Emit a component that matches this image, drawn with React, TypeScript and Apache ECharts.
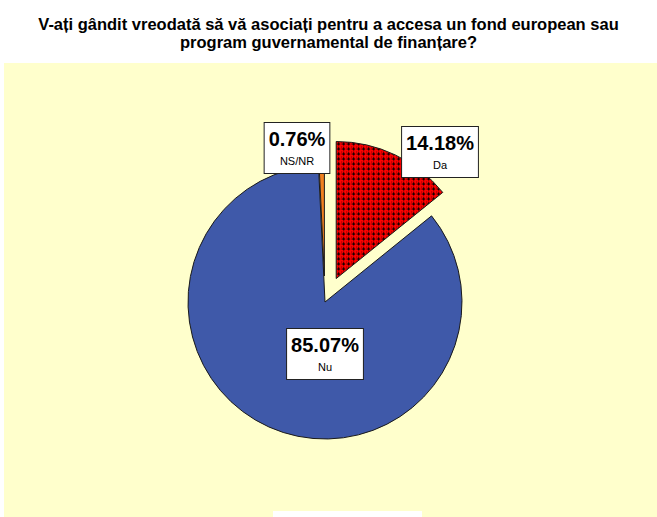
import React, { useEffect, useRef } from "react";
import * as echarts from "echarts";

const titleText =
  "V-ați gândit vreodată să vă asociați pentru a accesa un fond european sau\nprogram guvernamental de finanțare?";
const categories = ["Da", "Nu", "NS/NR"];
const values = [14.18, 85.07, 0.76];
const exploded = [true, false, true];

const FONT = "'Liberation Sans', Arial, sans-serif";

function makePattern(): HTMLCanvasElement {
  const c = document.createElement("canvas");
  c.width = 5;
  c.height = 5;
  const ctx = c.getContext("2d")!;
  ctx.fillStyle = "#ff0000";
  ctx.fillRect(0, 0, 5, 5);
  ctx.fillStyle = "#000000";
  ctx.fillRect(2, 1, 1, 3);
  ctx.fillRect(1, 2, 3, 1);
  ctx.fillStyle = "#700000";
  ctx.fillRect(0, 0, 1, 1);
  ctx.fillRect(2, 0, 1, 1);
  ctx.fillRect(0, 2, 1, 1);
  return c;
}

export default function App() {
  const ref = useRef<HTMLDivElement>(null);
  useEffect(() => {
    if (!ref.current) return;
    const chart = echarts.init(ref.current, undefined, { renderer: "svg" });
    const colors = [
      { image: makePattern(), repeat: "repeat" },
      "#3f59a9",
      "#f08020",
    ];
    // label box centres (layout only)
    const labelCenters = [
      [440, 152],
      [325, 354],
      [297, 148],
    ];
    const labelGraphics = categories.map((name, i) => ({
      type: "text",
      z: 100,
      silent: true,
      x: labelCenters[i][0],
      y: labelCenters[i][1],
      style: {
        text: `{p|${values[i].toFixed(2)}%}\n{n|${name}}`,
        align: "center",
        verticalAlign: "middle",
        backgroundColor: "#ffffff",
        borderColor: "#222",
        borderWidth: 1,
        padding: [3, 4, 3, 4],
        rich: {
          p: {
            fontFamily: FONT,
            fontSize: 20,
            fontWeight: "bold",
            fill: "#000",
            lineHeight: 26,
            align: "center",
          },
          n: {
            fontFamily: FONT,
            fontSize: 11,
            fill: "#000",
            lineHeight: 18,
            align: "center",
          },
        },
      },
    }));
    chart.setOption({
      animation: false,
      backgroundColor: "#ffffff",
      title: {
        text: titleText,
        left: "center",
        top: 10,
        textStyle: {
          fontFamily: FONT,
          fontSize: 16.5,
          fontWeight: "bold",
          color: "#000",
          lineHeight: 18,
        },
      },
      graphic: [
        {
          type: "rect",
          z: -10,
          silent: true,
          shape: { x: 4, y: 63, width: 660, height: 460 },
          style: { fill: "#ffffcc" },
        },
        {
          type: "rect",
          z: -5,
          silent: true,
          shape: { x: 273, y: 511, width: 149, height: 20 },
          style: { fill: "#ffffff" },
        },
        ...labelGraphics,
      ],
      series: [
        {
          type: "pie",
          center: [325, 302],
          radius: 137,
          startAngle: 90,
          clockwise: true,
          selectedMode: "multiple",
          selectedOffset: 26,
          avoidLabelOverlap: false,
          emphasis: { disabled: true },
          itemStyle: { borderColor: "#1a1a1a", borderWidth: 1 },
          select: { itemStyle: { borderColor: "#1a1a1a", borderWidth: 1 } },
          label: { show: false },
          labelLine: { show: false },
          data: categories.map((name, i) => ({
            name,
            value: values[i],
            selected: exploded[i],
            itemStyle: { color: colors[i] },
          })),
        },
      ],
    });
    return () => chart.dispose();
  }, []);
  return (
    <div
      ref={ref}
      style={{ position: "absolute", left: 0, top: 0, width: 657, height: 517 }}
    />
  );
}
